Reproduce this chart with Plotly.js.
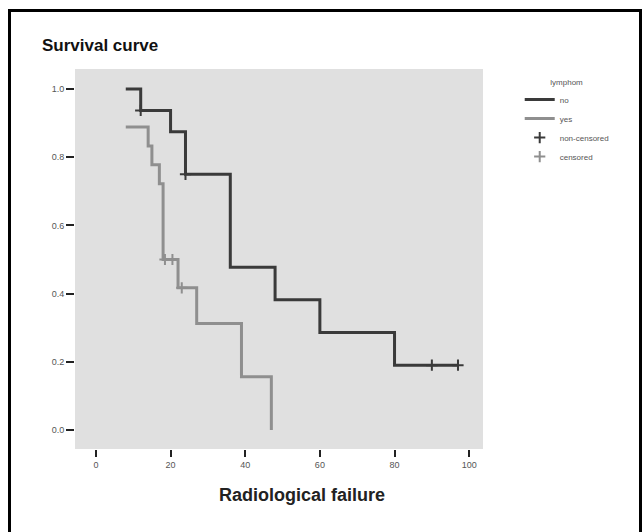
<!DOCTYPE html>
<html>
<head>
<meta charset="utf-8">
<script src="https://cdn.plot.ly/plotly-3.0.1.min.js"></script>
<style>
  html, body { margin: 0; padding: 0; background: #ffffff; }
  #wrap { position: relative; width: 642px; height: 532px; overflow: hidden; }
  #chart { width: 642px; height: 532px; }
  #frame { position: absolute; left: 8px; top: 9px; width: 628px; height: 600px;
           border: 3px solid #000; border-bottom: none; pointer-events: none; }
</style>
</head>
<body>
<div id="wrap">
  <div id="chart"></div>
  <div id="frame"></div>
</div>
<script>
// Kaplan-Meier step values
const noTimes  = [8, 12, 20, 24, 36, 48, 60, 80, 97];
const noSurv   = [1.0, 0.9375, 0.875, 0.75, 0.477, 0.382, 0.286, 0.19, 0.19];
const yesTimes = [8, 14, 15, 17, 18, 22, 27, 39, 47];
const yesSurv  = [0.889, 0.833, 0.778, 0.722, 0.5, 0.417, 0.3125, 0.156, 0.0];
const noCensTimes  = [12, 24, 90, 97];
const noCensSurv   = [0.9375, 0.75, 0.19, 0.19];
const yesCensTimes = [18.5, 20.5, 23];
const yesCensSurv  = [0.5, 0.5, 0.417];
const groupNames = ['no', 'yes'];
const censorNames = ['non-censored', 'censored'];
const legendTitle = 'lymphom';
const xTicks = [0, 20, 40, 60, 80, 100];
const yTicks = [0.0, 0.2, 0.4, 0.6, 0.8, 1.0];

const dark = '#3a3a3a';
const light = '#8f8f8f';

const traces = [
  { x: noTimes, y: noSurv, name: groupNames[0], type: 'scatter', mode: 'lines',
    line: { shape: 'hv', color: dark, width: 3 }, legendgroup: 'a' },
  { x: yesTimes, y: yesSurv, name: groupNames[1], type: 'scatter', mode: 'lines',
    line: { shape: 'hv', color: light, width: 3 }, legendgroup: 'b' },
  { x: noCensTimes, y: noCensSurv, name: censorNames[0], type: 'scatter', mode: 'markers',
    marker: { symbol: 'cross-thin', size: 8, color: dark, line: { color: dark, width: 2 } }, legendgroup: 'c' },
  { x: yesCensTimes, y: yesCensSurv, name: censorNames[1], type: 'scatter', mode: 'markers',
    marker: { symbol: 'cross-thin', size: 8, color: light, line: { color: light, width: 2 } }, legendgroup: 'd' }
];

const font = 'Liberation Sans, Arial, sans-serif';

const layout = {
  width: 642, height: 532,
  margin: { l: 75, r: 159, t: 69, b: 83, pad: 0 },
  paper_bgcolor: '#ffffff',
  plot_bgcolor: '#e0e0e0',
  font: { family: font, color: '#444', size: 8 },
  title: { text: 'Survival curve', font: { family: font, size: 17, color: '#111', weight: 'bold' },
           xref: 'container', yref: 'container', x: 42/642, xanchor: 'left', y: 1 - 45/532, yanchor: 'middle' },
  xaxis: { range: [-5.6, 103.7], tickvals: xTicks, ticktext: xTicks.map(String),
           ticks: 'outside', ticklen: 7, tickwidth: 2, tickcolor: '#222',
           showgrid: false, zeroline: false, showline: false,
           tickfont: { size: 9, color: '#555' }, fixedrange: true },
  yaxis: { range: [-0.056, 1.059], tickvals: yTicks, ticktext: yTicks.map(v => v.toFixed(1)),
           ticks: 'outside', ticklen: 8, tickwidth: 2, tickcolor: '#222',
           showgrid: false, zeroline: false, showline: false,
           tickfont: { size: 9, color: '#555' }, fixedrange: true },
  showlegend: true,
  legend: { x: 1.09, y: 0.985, xanchor: 'left', yanchor: 'top', bgcolor: 'rgba(0,0,0,0)',
            font: { size: 8, color: '#555', family: font }, traceorder: 'grouped', tracegroupgap: 0,
            title: { text: legendTitle, side: 'top center', font: { size: 8, color: '#555' } } },
  annotations: [
    { text: 'Radiological failure', xref: 'paper', yref: 'paper',
      x: (302 - 75) / 408, y: -(495 - 449) / 380, xanchor: 'center', yanchor: 'middle',
      showarrow: false, font: { family: font, size: 18, color: '#222', weight: 'bold' } }
  ]
};

Plotly.newPlot('chart', traces, layout, { displayModeBar: false, staticPlot: true });
</script>
</body>
</html>
